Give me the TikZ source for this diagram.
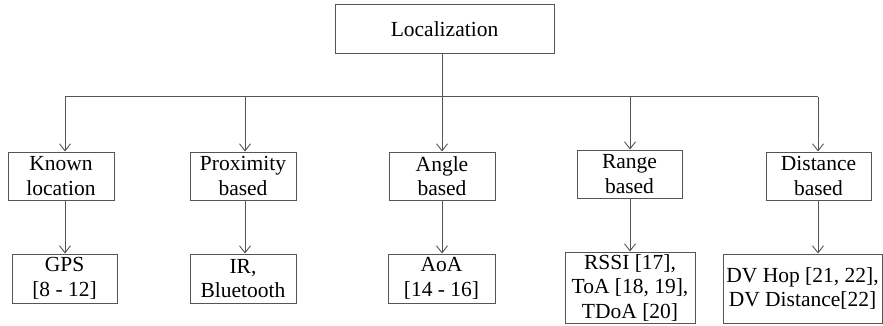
\documentclass[tikz,border=0pt]{standalone}
\usepackage{fontspec}
\setmainfont{Liberation Serif}
\newfontfamily\tnr{Liberation Serif}
\usetikzlibrary{arrows.meta}
\definecolor{linegray}{HTML}{555555}
\tikzset{
  box/.style={draw=linegray, line width=1pt, fill=white, inner sep=0pt, align=center,
    font=\tnr\fontsize{21.5}{24.5}\selectfont, text=black},
  conn/.style={draw=linegray, line width=1pt},
  arr/.style={conn, -{Straight Barb[length=7pt,width=11pt,line width=0.9pt]}},
}
\begin{document}
\begin{tikzpicture}[x=1pt,y=-1pt]
\useasboundingbox (0,0) rectangle (883,326);
% top
\node[box, minimum width=219pt, minimum height=49pt] (loc) at (444.5,29.5) {Localization};
% second row
\node[box, minimum width=106pt, minimum height=48pt] (known) at (61,176) {Known\\location};
\node[box, minimum width=106pt, minimum height=48pt] (prox) at (243,176) {Proximity\\based};
\node[box, minimum width=106pt, minimum height=48pt] (angle) at (442,176) {Angle\\based};
\node[box, minimum width=105pt, minimum height=48pt] (range) at (629.5,174) {Range\\based};
\node[box, minimum width=105pt, minimum height=48pt] (dist) at (818.5,176) {Distance\\based};
% third row
\node[box, minimum width=105pt, minimum height=49pt] (gps) at (64.5,278.5) {GPS\\{}[8 - 12]};
\node[box, minimum width=106pt, minimum height=49pt] (ir) at (243,278.5) {IR,\\Bluetooth};
\node[box, minimum width=107pt, minimum height=49pt] (aoa) at (441.5,278.5) {AoA\\{}[14 - 16]};
\node[box, minimum width=130pt, minimum height=71pt] (rssi) at (630,287.5) {RSSI [17],\\ToA [18, 19],\\TDoA [20]};
\node[box, minimum width=159pt, minimum height=69pt] (dv) at (802.5,288.5) {DV Hop [21, 22],\\DV Distance[22]};
% columns
\coordinate (c1) at (65,97);
\coordinate (c2) at (245,97);
\coordinate (c3) at (442,97);
\coordinate (c4) at (630,97);
\coordinate (c5) at (818,97);
% bus
\draw[conn] (c1) -- (c5);
\draw[conn] (loc.south -| c3) -- (c3);
\draw[arr] (c1) -- (c1 |- known.north);
\draw[arr] (c2) -- (c2 |- prox.north);
\draw[arr] (c3) -- (c3 |- angle.north);
\draw[arr] (c4) -- (c4 |- range.north);
\draw[arr] (c5) -- (c5 |- dist.north);
% down arrows
\draw[arr] (known.south -| c1) -- (gps.north -| c1);
\draw[arr] (prox.south -| c2) -- (ir.north -| c2);
\draw[arr] (angle.south -| c3) -- (aoa.north -| c3);
\draw[arr] (range.south -| c4) -- (rssi.north -| c4);
\draw[arr] (dist.south -| c5) -- (dv.north -| c5);
\end{tikzpicture}
\end{document}
